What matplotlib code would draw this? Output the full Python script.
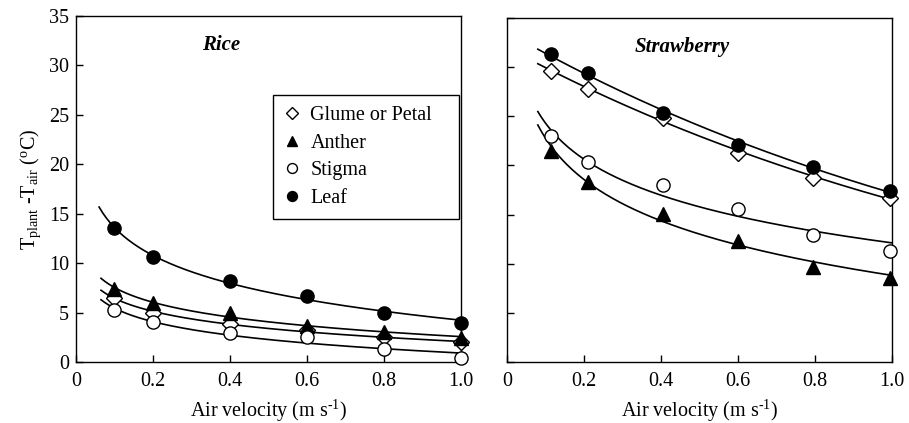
import numpy as np
import matplotlib
matplotlib.use('Agg')
import matplotlib.pyplot as plt

plt.rcParams['font.family'] = ['Liberation Serif', 'DejaVu Serif']
plt.rcParams['mathtext.fontset'] = 'custom'
plt.rcParams['mathtext.rm'] = 'Liberation Serif'
plt.rcParams['mathtext.it'] = 'Liberation Serif:italic'

# air velocity (m s-1)
rice_x = [0.1, 0.2, 0.4, 0.6, 0.8, 1.0]
straw_x = [0.115, 0.21, 0.405, 0.60, 0.795, 0.995]

# rice: T_plant - T_air (oC)
rice_glume = [6.5, 5.0, 3.8, 3.2, 2.5, 2.0]
rice_anther = [7.4, 6.0, 5.0, 3.6, 3.0, 2.4]
rice_stigma = [5.3, 4.0, 2.9, 2.5, 1.3, 0.4]
rice_leaf = [13.55, 10.6, 8.2, 6.7, 5.0, 3.95]

# strawberry
straw_glume = [29.6, 27.8, 24.8, 21.3, 18.7, 16.7]
straw_anther = [21.5, 18.3, 15.1, 12.3, 9.7, 8.5]
straw_stigma = [23.0, 20.3, 18.0, 15.6, 12.9, 11.3]
straw_leaf = [31.3, 29.4, 25.3, 22.1, 19.8, 17.4]

labels = ['Glume or Petal', 'Anther', 'Stigma', 'Leaf']
markers = ['D', '^', 'o', 'o']
faces = ['white', 'black', 'white', 'black']
sizes = [8, 9.5, 9.5, 9.5]

FS = 14.5


def trend(x, y, kind, x0):
    # regression curve through the measured points
    x = np.asarray(x)
    y = np.asarray(y)
    xs = np.linspace(x0, 1.0, 200)
    if kind == 'log':
        b, a = np.polyfit(np.log(x), y, 1)
        return xs, a + b * np.log(xs)
    b, a = np.polyfit(x, np.log(y), 1)
    return xs, np.exp(a + b * xs)


fig = plt.figure(figsize=(9.09, 4.23), dpi=100)
ax1 = fig.add_axes([0.0836, 0.1442, 0.4235, 0.818])
ax2 = fig.add_axes([0.5578, 0.1442, 0.4235, 0.8135])

rice = [rice_glume, rice_anther, rice_stigma, rice_leaf]
rice_start = [0.065, 0.065, 0.065, 0.06]
for ys, m, fc, s, lab, x0 in zip(rice, markers, faces, sizes, labels, rice_start):
    xs, ys_fit = trend(rice_x, ys, 'log', x0)
    ax1.plot(xs, ys_fit, color='black', lw=1.2, zorder=2)
    ax1.plot(rice_x, ys, ls='none', marker=m, ms=s, mfc=fc, mec='black',
             mew=1.0, label=lab, zorder=3, clip_on=False)

straw = [straw_glume, straw_anther, straw_stigma, straw_leaf]
straw_kind = ['exp', 'log', 'log', 'exp']
for ys, m, fc, s, kind in zip(straw, markers, faces, sizes, straw_kind):
    xs, ys_fit = trend(straw_x, ys, kind, 0.08)
    ax2.plot(xs, ys_fit, color='black', lw=1.2, zorder=2)
    ax2.plot(straw_x, ys, ls='none', marker=m, ms=s, mfc=fc, mec='black',
             mew=1.0, zorder=3, clip_on=False)

for ax in (ax1, ax2):
    ax.set_xlim(0, 1.0)
    ax.set_ylim(0, 35)
    ax.set_xticks([0, 0.2, 0.4, 0.6, 0.8, 1.0])
    ax.set_xticklabels(['0', '0.2', '0.4', '0.6', '0.8', '1.0'])
    ax.set_yticks(range(0, 36, 5))
    ax.tick_params(direction='in', length=5, width=1, labelsize=FS)
    ax.tick_params(axis='x', pad=7)
    ax.tick_params(axis='y', pad=5)
    for sp in ax.spines.values():
        sp.set_linewidth(1.0)
    ax.set_xlabel('Air velocity (m s$^{\\rm \u20101}$)', fontsize=FS, labelpad=5)

ax2.set_yticklabels([])
ax1.set_ylabel(r'T$_{\rm plant}$ -T$_{\rm air}$ ($^{\rm o}$C)', fontsize=FS, labelpad=4)

ax1.text(0.377, 0.916, 'Rice', transform=ax1.transAxes, ha='center', va='center',
         fontsize=15, fontweight='bold', fontstyle='italic')
ax2.text(0.455, 0.916, 'Strawberry', transform=ax2.transAxes, ha='center', va='center',
         fontsize=15, fontweight='bold', fontstyle='italic')

leg = ax1.legend(loc='upper left', bbox_to_anchor=(0.512, 0.425, 0.482, 0.347),
                 mode='expand', borderaxespad=0, fontsize=FS,
                 frameon=True, fancybox=False, edgecolor='black', framealpha=1,
                 handlelength=0.8, handletextpad=0.5, borderpad=0.55,
                 labelspacing=0.42, markerscale=0.75)
leg.get_frame().set_linewidth(1.0)

fig.savefig('out.png', dpi=100)
